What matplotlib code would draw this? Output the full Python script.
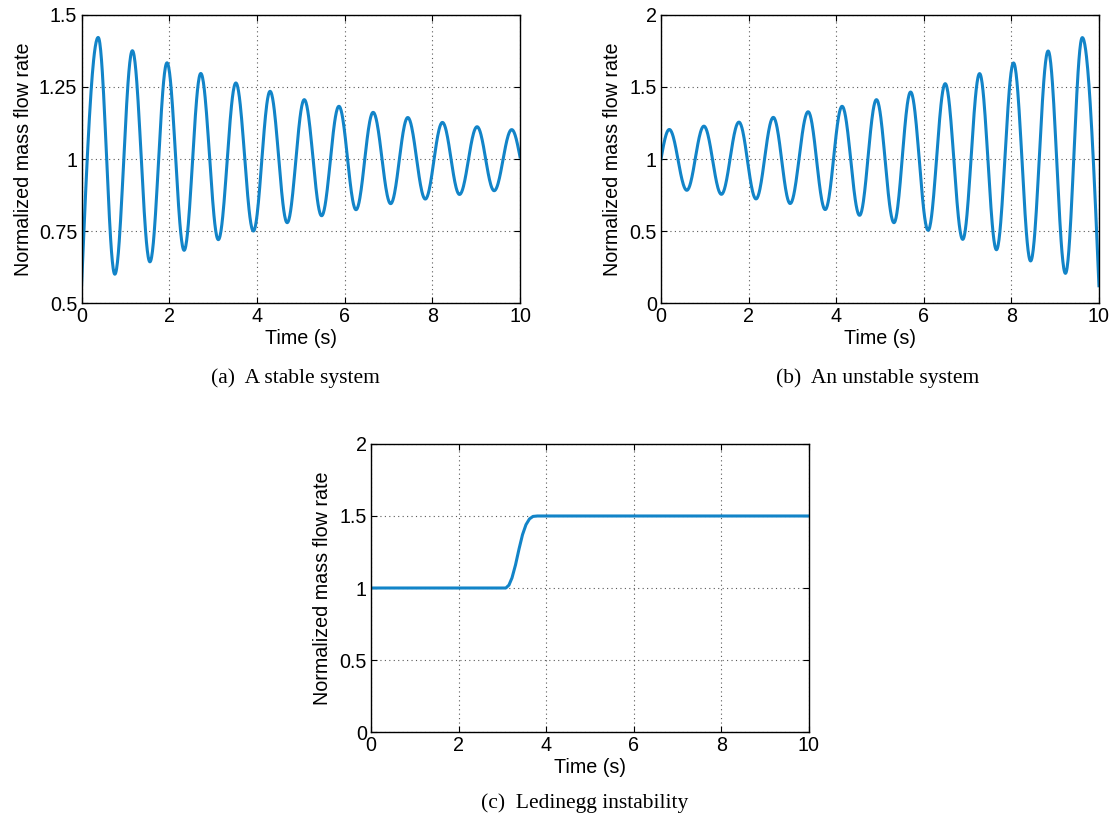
import numpy as np
import matplotlib
matplotlib.use("Agg")
import matplotlib.pyplot as plt

# (a) stable system: start, alternating peaks/troughs, end value
A_T = [0.0, 0.38, 0.76, 1.16, 1.56, 1.95, 2.34, 2.72, 3.12, 3.52, 3.92, 4.30,
       4.69, 5.08, 5.475, 5.87, 6.26, 6.65, 7.05, 7.44, 7.84, 8.23, 8.62,
       9.02, 9.41, 9.81, 10.0]
A_V = [0.556, 1.422, 0.600, 1.376, 0.643, 1.334, 0.683, 1.297, 0.720, 1.264,
       0.750, 1.235, 0.779, 1.206, 0.803, 1.183, 0.824, 1.162, 0.845, 1.144,
       0.861, 1.127, 0.877, 1.112, 0.890, 1.102, 1.007]

# (b) unstable system
B_T = [0.0, 0.19, 0.59, 0.98, 1.38, 1.78, 2.17, 2.565, 2.95, 3.36, 3.75, 4.135,
       4.535, 4.92, 5.32, 5.70, 6.10, 6.49, 6.89, 7.275, 7.66, 8.05, 8.44,
       8.84, 9.235, 9.62, 10.0]
B_V = [1.0, 1.205, 0.783, 1.228, 0.755, 1.256, 0.723, 1.289, 0.691, 1.328,
       0.649, 1.366, 0.609, 1.412, 0.558, 1.465, 0.505, 1.523, 0.442, 1.593,
       0.370, 1.667, 0.292, 1.750, 0.206, 1.843, 0.12]

# (c) Ledinegg instability
C_T = [0.0, 3.08, 3.15, 3.22, 3.30, 3.38, 3.46, 3.54, 3.62, 3.70, 3.80, 10.0]
C_V = [1.0, 1.0, 1.02, 1.07, 1.16, 1.27, 1.37, 1.44, 1.48, 1.497, 1.5, 1.5]

CAPTIONS = ["(a)  A stable system", "(b)  An unstable system", "(c)  Ledinegg instability"]
YLABEL = "Normalized mass flow rate"
XLABEL = "Time (s)"

BLUE = "#1284c8"
SANS = ["Liberation Sans", "DejaVu Sans"]
SERIF = ["Liberation Serif", "DejaVu Serif"]
FS = 14.2


def through_extrema(tk, vk, n=40):
    """Draw half-cosine arcs between read-off extrema (ends are not extrema)."""
    ts, vs = [], []
    last = len(tk) - 2
    for i in range(len(tk) - 1):
        s = np.linspace(0, 1, n, endpoint=False)
        if i == 0:
            w = np.sin(np.pi / 2 * s)
        elif i == last:
            w = 1 - np.cos(np.pi / 2 * s)
        else:
            w = (1 - np.cos(np.pi * s)) / 2
        ts.append(tk[i] + (tk[i + 1] - tk[i]) * s)
        vs.append(vk[i] + (vk[i + 1] - vk[i]) * w)
    ts.append([tk[-1]]); vs.append([vk[-1]])
    return np.concatenate(ts), np.concatenate(vs)


def style(ax, yticks, yticklabels, ylim):
    ax.set_xlim(0, 10); ax.set_ylim(*ylim)
    ax.set_xticks([0, 2, 4, 6, 8, 10])
    ax.set_yticks(yticks); ax.set_yticklabels(yticklabels)
    ax.tick_params(direction="in", length=4, width=0.8, top=True, right=True,
                   labelsize=FS, pad=3)
    for lab in ax.get_xticklabels() + ax.get_yticklabels():
        lab.set_family(SANS)
    ax.grid(True, linestyle=(0, (1, 3)), color="0.35", lw=0.8)
    for sp in ax.spines.values():
        sp.set_linewidth(1.0)
    ax.set_xlabel(XLABEL, family=SANS, fontsize=FS)
    ax.set_ylabel(YLABEL, family=SANS, fontsize=FS)
    ax.xaxis.set_label_coords(0.5, -0.09)
    ax.xaxis.label.set_va("top")


fig = plt.figure(figsize=(11.15, 8.19), dpi=100)
ax_a = fig.add_axes([0.0731, 0.630, 0.3933, 0.3517])
ax_b = fig.add_axes([0.5928, 0.630, 0.3928, 0.3517])
ax_c = fig.add_axes([0.3327, 0.1062, 0.3928, 0.3517])

t, v = through_extrema(A_T, A_V)
ax_a.plot(t, v, color=BLUE, lw=2.2)
style(ax_a, [0.5, 0.75, 1.0, 1.25, 1.5], ["0.5", "0.75", "1", "1.25", "1.5"], (0.5, 1.5))
ax_a.yaxis.set_label_coords(-0.11, 0.5)

t, v = through_extrema(B_T, B_V)
ax_b.plot(t, v, color=BLUE, lw=2.2)
style(ax_b, [0, 0.5, 1.0, 1.5, 2.0], ["0", "0.5", "1", "1.5", "2"], (0, 2))
ax_b.yaxis.set_label_coords(-0.09, 0.5)

ax_c.plot(C_T, C_V, color=BLUE, lw=2.2)
style(ax_c, [0, 0.5, 1.0, 1.5, 2.0], ["0", "0.5", "1", "1.5", "2"], (0, 2))
ax_c.yaxis.set_label_coords(-0.09, 0.5)

fig.text(295 / 1115, 1 - 378 / 819, CAPTIONS[0], family=SERIF, fontsize=15.5,
         ha="center", va="center")
fig.text(878 / 1115, 1 - 378 / 819, CAPTIONS[1], family=SERIF, fontsize=15.5,
         ha="center", va="center")
fig.text(585 / 1115, 1 - 803 / 819, CAPTIONS[2], family=SERIF, fontsize=15.5,
         ha="center", va="center")

fig.savefig("out.png", dpi=100)
